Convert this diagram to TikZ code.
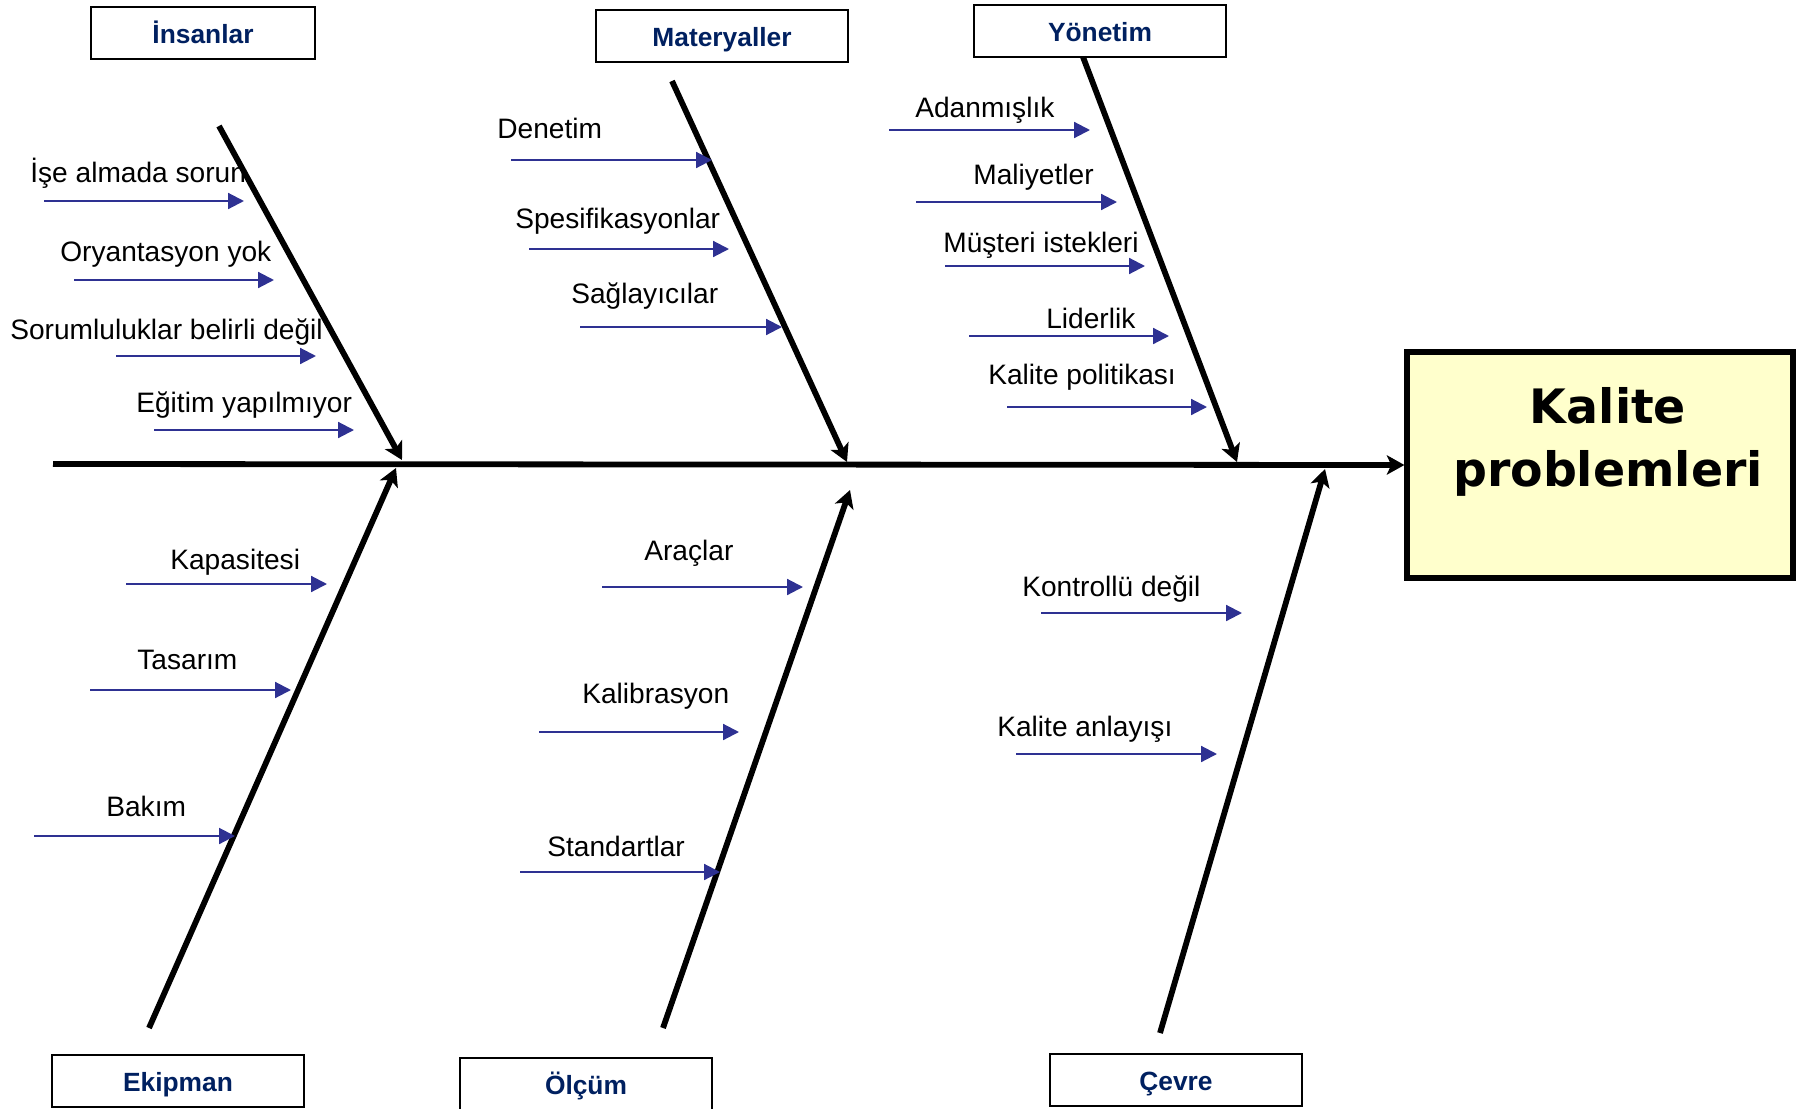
\documentclass[tikz,border=0pt]{standalone}
\usepackage{fontspec}
\setmainfont{Liberation Sans}
\newfontfamily\effectfont{DejaVu Sans}
\usepackage{xcolor}
\usetikzlibrary{arrows.meta}

\definecolor{causeblue}{RGB}{46,49,146}
\definecolor{headnavy}{RGB}{0,32,96}
\definecolor{effectfill}{RGB}{255,255,204}

\begin{document}
\begin{tikzpicture}[
  x=0.02cm, y=-0.02cm,
  font=\fontsize{16}{19}\selectfont,
  bone/.style={line width=3.3pt, line cap=butt, -{Stealth[length=10pt,width=11pt,inset=2.5pt]}},
  cause/.style={causeblue, line width=1.2pt, -{Triangle[length=9pt,width=9pt]}},
  lbl/.style={anchor=base west, inner sep=0pt},
  header/.style={draw, line width=1.2pt, minimum width=5.04cm, minimum height=1.04cm,
    inner sep=0pt, text height=12pt, text depth=0pt, text=headnavy,
    font=\fontsize{15}{18}\selectfont\bfseries},
  effect/.style={draw, line width=3pt, fill=effectfill, minimum width=7.72cm, minimum height=4.52cm},
  effecttxt/.style={align=center, inner sep=0pt, font=\effectfont\bfseries\fontsize{27}{36}\selectfont},
]
\useasboundingbox (0,0) rectangle (1799,1109);

% effect box
\node[effect] (effect) at (1600,465) {};
\node[effecttxt] (effectlbl) at (1608,442) {Kalite\\problemleri};

% category headers
\node[header, minimum width=4.48cm] (insanlar) at (203,33) {İnsanlar};
\node[header] (materyal) at (722,36) {Materyaller};
\node[header] (yonetim) at (1100,31) {Yönetim};
\node[header] (ekipman) at (178,1081) {Ekipman};
\node[header] (olcum) at (586,1084) {Ölçüm};
\node[header] (cevre) at (1176,1080) {Çevre};

% spine
\coordinate (tail) at (53,464);
\draw[bone] (tail) -- (effect.west);

% main bones
\foreach \b/\xa/\ya/\xb/\yb in {ins/219/126/402/460, mat/672/81/847/462, yon/1083/57/1237/462,
    eki/149/1028/396/468, olc/663/1028/850/490, cev/1160/1033/1325/469} {
  \coordinate (\b T) at (\xa,\ya);
  \coordinate (\b B) at (\xb,\yb);
  \draw[bone] (\b T) -- (\b B);
}

% causes: label x / baseline, arrow start x / end x / y
\foreach \i/\tx/\lx/\ly/\ax/\bx/\ay in {
    1/İşe almada sorun/30/182/44/244/201,
    2/Oryantasyon yok/60/261/74/274/280,
    3/Sorumluluklar belirli değil/10/339/116/316/356,
    4/Eğitim yapılmıyor/136/412/154/354/430,
    5/Denetim/497/138/511/712/160,
    6/Spesifikasyonlar/515/228/529/729/249,
    7/Sağlayıcılar/571/303/580/782/327,
    8/Adanmışlık/915/117/889/1090/130,
    9/Maliyetler/973/184/916/1117/202,
    10/Müşteri istekleri/943/252/945/1145/266,
    11/Liderlik/1046/328/969/1169/336,
    12/Kalite politikası/988/384/1007/1207/407,
    13/Kapasitesi/170/569/126/327/584,
    14/Tasarım/137/669/90/291/690,
    15/Bakım/106/816/34/235/836,
    16/Araçlar/644/560/602/803/587,
    17/Kalibrasyon/582/703/539/739/732,
    18/Standartlar/547/856/520/720/872,
    19/Kontrollü değil/1022/596/1041/1242/613,
    20/Kalite anlayışı/997/736/1016/1217/754} {
  \node[lbl] (cl\i) at (\lx,\ly) {\tx};
  \coordinate (cs\i) at (\ax,\ay);
  \coordinate (ce\i) at (\bx,\ay);
  \draw[cause] (cs\i) -- (ce\i);
}
\end{tikzpicture}
\end{document}
